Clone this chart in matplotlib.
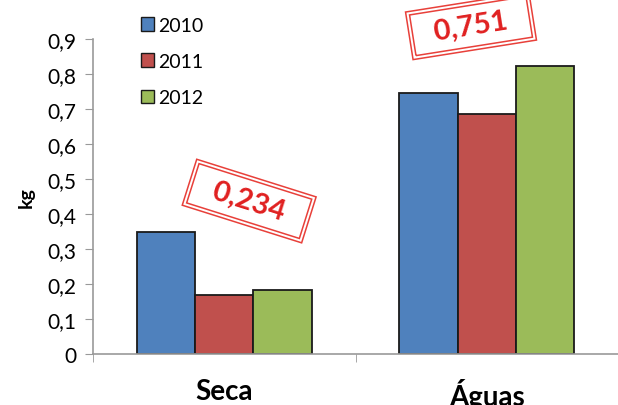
import numpy as np
import matplotlib
matplotlib.use("Agg")
import matplotlib.pyplot as plt
from matplotlib.patches import Patch

plt.rcParams['font.family'] = ['Lato', 'DejaVu Sans']

# dados
categorias = ['Seca', 'Águas']
anos = ['2010', '2011', '2012']
kg_2010 = [0.350, 0.745]
kg_2011 = [0.168, 0.685]
kg_2012 = [0.184, 0.823]
cores = ['#4F81BD', '#C0504D', '#9BBB59']

series = [kg_2010, kg_2011, kg_2012]
medias = np.mean(np.array(series), axis=0)

fig = plt.figure(figsize=(6.18, 4.06), dpi=100)
ax = fig.add_axes([93 / 618, 1 - 355 / 406, 1 - 93 / 618, 315 / 406])

x = np.arange(len(categorias))
largura = 0.222
for i, (vals, cor) in enumerate(zip(series, cores)):
    ax.bar(x + (i - 1) * largura, vals, largura, color=cor,
           edgecolor='#1a1a1a', linewidth=1.3, zorder=2)

ax.set_xlim(-0.5, 1.49)
ax.set_ylim(0, 0.9)
ax.set_yticks(np.arange(0, 0.91, 0.1))
ax.set_yticklabels(['0'] + [f'{v:.1f}'.replace('.', ',') for v in np.arange(0.1, 0.91, 0.1)],
                   fontsize=15)
ax.set_xticks(x)
ax.set_xticklabels(categorias, fontsize=20, fontweight='bold')
ax.set_xticks([-0.5, 0.5, 1.5], minor=True)
ax.tick_params(axis='x', which='major', length=0, pad=17)
ax.tick_params(axis='x', which='minor', length=6, color='#999999', direction='out')
ax.tick_params(axis='y', length=6, color='#999999', pad=6)

for s in ['top', 'right']:
    ax.spines[s].set_visible(False)
for s in ['left', 'bottom']:
    ax.spines[s].set_color('#999999')
    ax.spines[s].set_linewidth(1.2)

ax.set_ylabel('kg', fontsize=14, fontweight='bold', labelpad=9)

# legenda
handles = [Patch(facecolor=c, edgecolor='#1a1a1a', linewidth=1.0) for c in cores]
fig.legend(handles, anos, loc='upper left', bbox_to_anchor=(123 / 618, 1 - 0 / 406),
           frameon=False, fontsize=14, handlelength=0.7, handleheight=0.7,
           handletextpad=0.2, labelspacing=1.0)

# carimbos com as médias
carimbos = [(0.095, 0.437, -17.5), (0.94, 0.937, 9)]
for (cx, cy, rot), m in zip(carimbos, medias):
    txt = '  ' + f'{m:.3f}'.replace('.', ',') + '  '
    ax.text(cx, cy, txt, rotation=rot, ha='center', va='center', fontsize=21,
            fontweight='bold', color=(0, 0, 0, 0), rotation_mode='anchor',
            bbox=dict(boxstyle='square,pad=0.38', fc='white', ec='#E8403A', lw=1.1),
            zorder=5, clip_on=False)
    ax.text(cx, cy, txt, rotation=rot, ha='center', va='center', fontsize=21,
            fontweight='bold', color='#E02020', rotation_mode='anchor',
            bbox=dict(boxstyle='square,pad=0.26', fc='none', ec='#E8403A', lw=1.1),
            zorder=6, clip_on=False)

plt.savefig('out.png', dpi=100)
